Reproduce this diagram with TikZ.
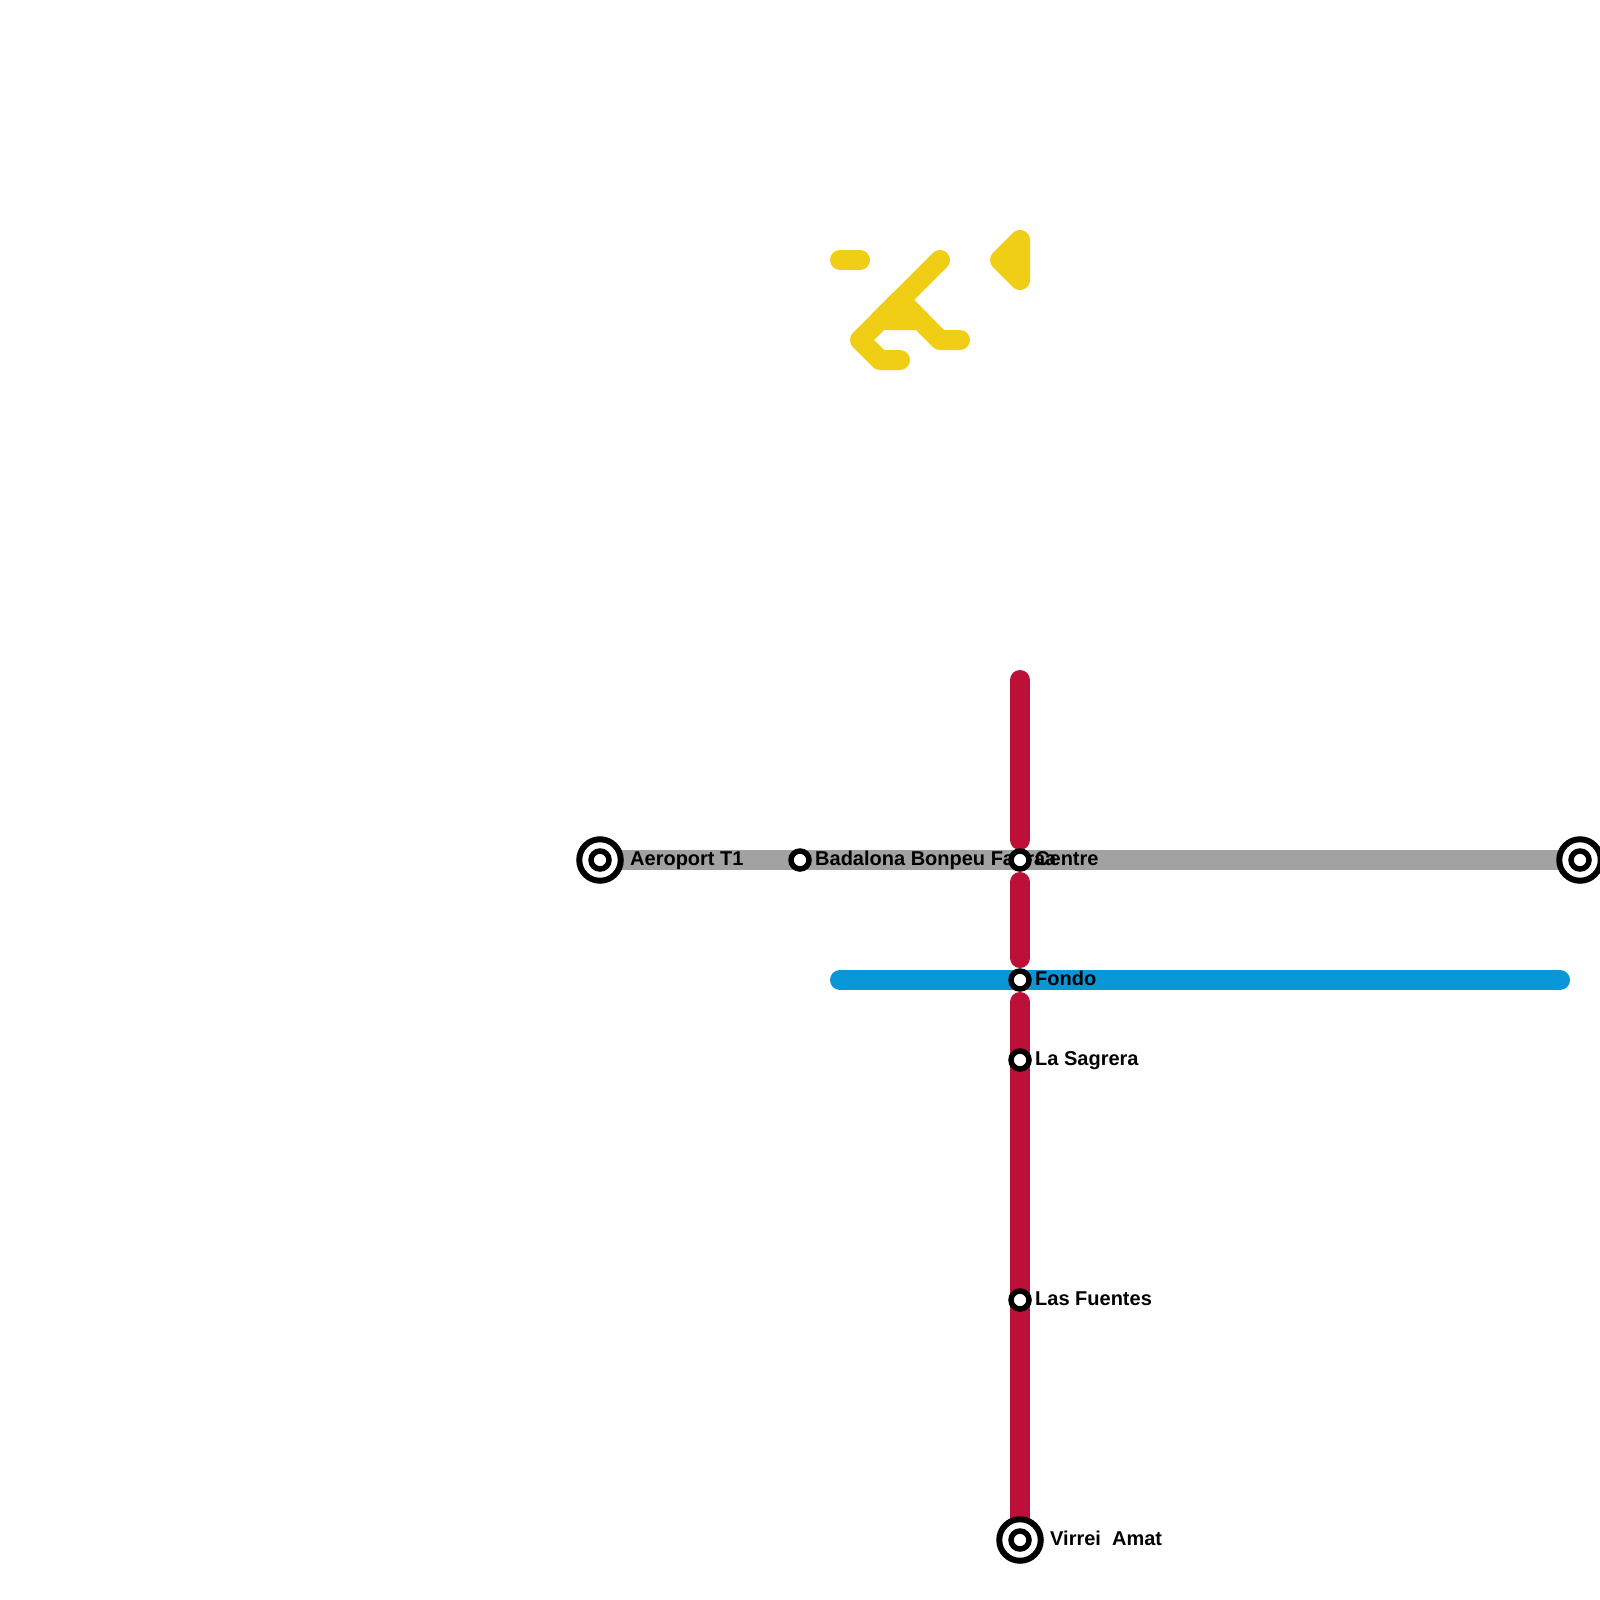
\documentclass[tikz,border=0pt]{standalone}
\usepackage{fontspec}
\setmainfont{Liberation Sans}
\definecolor{greyline}{HTML}{A2A2A2}
\definecolor{redline}{HTML}{BD1038}
\definecolor{blueline}{HTML}{0896D7}
\definecolor{yellowline}{HTML}{F0CE15}
\tikzset{
  x=1pt,y=-1pt,
  metro/.style={line width=20pt,line cap=round,line join=round},
  greymetro/.style={line width=20pt,color=greyline},
  stop/.style={circle,draw=black,fill=white,line width=5.5pt,minimum size=18pt,inner sep=0pt},
  endring/.style={circle,draw=black,fill=white,line width=6pt,minimum size=41.5pt,inner sep=0pt},
  lbl/.style={anchor=base west,inner sep=0pt,font=\fontsize{20pt}{24pt}\selectfont\bfseries,text=black},
}
\begin{document}
\begin{tikzpicture}
\path[use as bounding box,fill=white] (0,0) rectangle (1600,1600);
\clip (0,0) rectangle (1600,1600);
% anchors
\coordinate (aero) at (600,860);
\coordinate (bada) at (800,860);
\coordinate (centre) at (1020,860);
\coordinate (east) at (1580,860);
\coordinate (fondo) at (1020,980);
\coordinate (sagrera) at (1020,1060);
\coordinate (fuentes) at (1020,1300);
\coordinate (virrei) at (1020,1540);
\coordinate (redtop) at (1020,680);
\coordinate (redA) at (1020,840);
\coordinate (redB) at (1020,882);
\coordinate (redC) at (1020,958);
\coordinate (redD) at (1020,1002);
\coordinate (blueW) at (840,980);
\coordinate (blueE) at (1560,980);
% lines
\draw[greymetro] (aero) -- (east);
\draw[metro,blueline] (blueW) -- (blueE);
\draw[metro,redline] (redtop) -- (redA);
\draw[metro,redline] (redB) -- (redC);
\draw[metro,redline] (redD) -- (virrei);
% yellow
\draw[metro,yellowline] (840,260) -- (860,260);
\draw[metro,yellowline] (940,260) -- (860,340) -- (880,360) -- (900,360);
\draw[metro,yellowline] (900,300) -- (940,340) -- (960,340);
\draw[metro,yellowline,fill=yellowline] (900,300) -- (880,320) -- (920,320) -- cycle;
\draw[metro,yellowline,fill=yellowline] (1020,240) -- (1000,260) -- (1020,280) -- cycle;
% labels
\node[lbl] (laero) at (630,865) {Aeroport T1};
\node[lbl] (lbada) at (815,865) {Badalona Bonpeu Fabraa};
\node[lbl] (lcentre) at (1035,865) {Centre};
\node[lbl] (lfondo) at (1035,985) {Fondo};
\node[lbl] (lsagrera) at (1035,1065) {La Sagrera};
\node[lbl] (lfuentes) at (1035,1305) {Las Fuentes};
\node[lbl] (lvirrei) at (1050,1545) {Virrei\ \ Amat};
% stations
\node[stop] (sbada) at (bada) {};
\node[stop] (scentre) at (centre) {};
\node[stop] (sfondo) at (fondo) {};
\node[stop] (ssagrera) at (sagrera) {};
\node[stop] (sfuentes) at (fuentes) {};
\node[endring] (raero) at (aero) {};
\node[stop] (daero) at (aero) {};
\node[endring] (reast) at (east) {};
\node[stop] (deast) at (east) {};
\node[endring] (rvirrei) at (virrei) {};
\node[stop] (dvirrei) at (virrei) {};
\end{tikzpicture}
\end{document}
